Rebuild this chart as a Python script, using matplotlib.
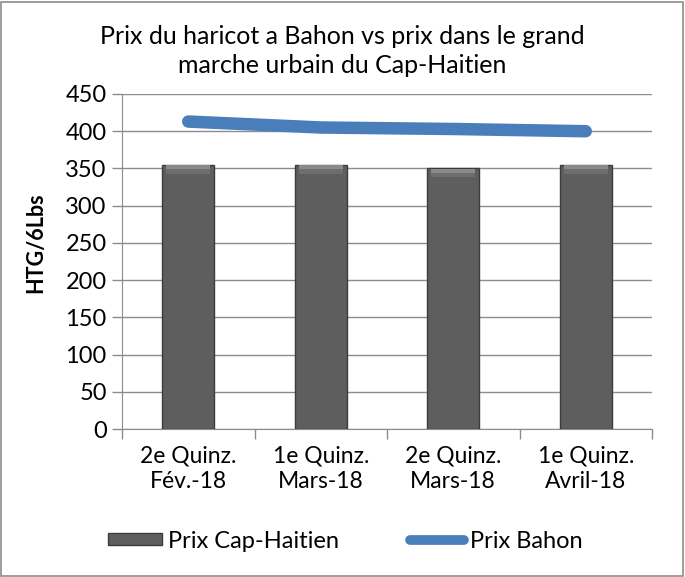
import matplotlib
matplotlib.use("Agg")
import matplotlib.pyplot as plt
from matplotlib.patches import Rectangle
from matplotlib.lines import Line2D

plt.rcParams['font.family'] = ['Lato', 'DejaVu Sans']

categories = ["2e Quinz.\nFév.-18", "1e Quinz.\nMars-18", "2e Quinz.\nMars-18", "1e Quinz.\nAvril-18"]
prix_cap = [355, 355, 350, 355]
prix_bahon = [413, 405, 403, 400]
yticks = [0, 50, 100, 150, 200, 250, 300, 350, 400, 450]

W, H = 685, 577
fig = plt.figure(figsize=(W/100, H/100), dpi=100)
ax = fig.add_axes([122/W, 1-429/H, (652-122)/W, (429-94)/H])

x = list(range(len(categories)))
ax.bar(x, prix_cap, width=0.39, color='#5e5e5e', edgecolor='#3c3c3c', linewidth=1, zorder=3)
# lighter bevel highlight at top of bars
ax.bar(x, [5]*len(x), bottom=[v-6 for v in prix_cap], width=0.33, color='#8a8a8a', linewidth=0, zorder=3.5)
ax.bar(x, [6]*len(x), bottom=[v-12 for v in prix_cap], width=0.33, color='#6e6e6e', linewidth=0, zorder=3.5)
ax.plot(x, prix_bahon, color='#4a7ebb', linewidth=9, solid_capstyle='round', zorder=4)

ax.set_xlim(-0.5, len(categories)-0.5)
ax.set_ylim(0, 450)
ax.set_yticks(yticks)
ax.set_yticklabels([str(v) for v in yticks], fontsize=17)
ax.set_xticks(x)
ax.set_xticklabels(categories, fontsize=16.5, linespacing=1.25)
ax.tick_params(axis='x', length=0, pad=12)
ax.set_xticks([i+0.5 for i in range(-1, len(categories))], minor=True)
ax.tick_params(axis='x', which='minor', length=7, color='#8c8c8c', width=1)
ax.tick_params(axis='y', length=7, color='#8c8c8c', width=1, pad=4)
ax.grid(axis='y', color='#8c8c8c', linewidth=1, zorder=0)
ax.set_axisbelow(True)
for s in ['top', 'right']:
    ax.spines[s].set_visible(False)
for s in ['left', 'bottom']:
    ax.spines[s].set_color('#8c8c8c')
ax.set_ylabel('HTG/6Lbs', fontsize=15.5, fontweight='bold')
ax.yaxis.set_label_coords(-0.142, 0.555)

fig.text(342/W, 1-51/H, "Prix du haricot a Bahon vs prix dans le grand\nmarche urbain du Cap-Haitien",
         ha='center', va='center', fontsize=18, linespacing=1.3)

h_bar = Rectangle((0, 0), 1, 1, facecolor='#5e5e5e', edgecolor='#3c3c3c', linewidth=1)
h_line = Line2D([0], [0], color='#4a7ebb', linewidth=7, solid_capstyle='round')
leg = fig.legend([h_bar, h_line], ['Prix Cap-Haitien', 'Prix Bahon'], loc='center left',
                 bbox_to_anchor=(108/W, 1-541/H), ncol=2, frameon=False, fontsize=17,
                 handlelength=2.3, handleheight=0.45, handletextpad=0.25, columnspacing=3.0,
                 borderpad=0, borderaxespad=0)

fig.patches.append(Rectangle((1/W, 1/H), 1-3/W, 1-3/H, transform=fig.transFigure,
                             fill=False, edgecolor='#8c8c8c', linewidth=1.2))
fig.savefig('out.png', dpi=100)
